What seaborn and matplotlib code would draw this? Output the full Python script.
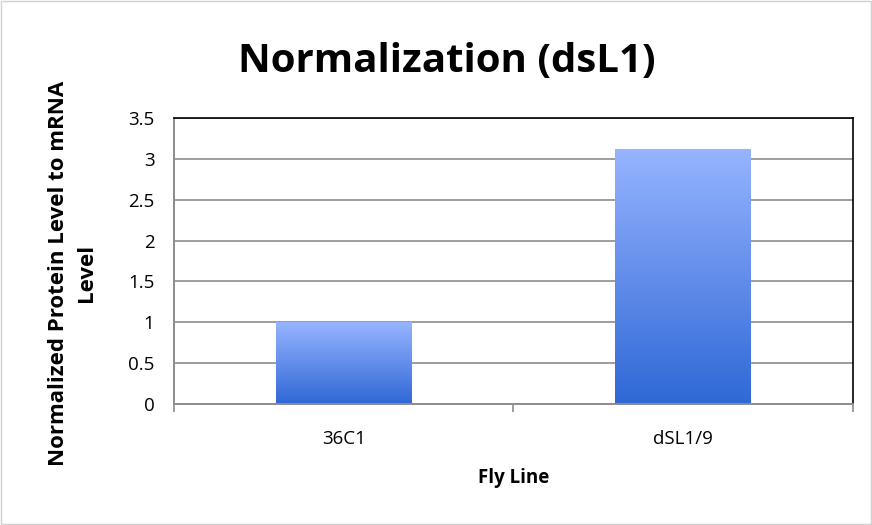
import numpy as np
import pandas as pd
import matplotlib
matplotlib.use("Agg")
import matplotlib.pyplot as plt
import seaborn as sns
from matplotlib.colors import LinearSegmentedColormap
from matplotlib.patches import Rectangle

# data
fly_lines = ["36C1", "dSL1/9"]
ratios = [1.0, 3.12]
y_ticks = [0, 0.5, 1, 1.5, 2, 2.5, 3, 3.5]
y_tick_labels = ["0", "0.5", "1", "1.5", "2", "2.5", "3", "3.5"]

df = pd.DataFrame({"Fly Line": fly_lines, "Ratio": ratios})

sns.set_theme(style="white")
plt.rcParams["font.family"] = ["Open Sans", "DejaVu Sans"]
plt.rcParams["text.color"] = "black"

fig = plt.figure(figsize=(8.72, 5.25), dpi=100)
ax = fig.add_axes([0.1995, 0.2305, 0.7785, 0.5445])

sns.barplot(data=df, x="Fly Line", y="Ratio", ax=ax, width=0.40,
            color="#5b8be8", edgecolor="none", errorbar=None)

# gradient fill for each bar, light at top to dark at bottom
cmap = LinearSegmentedColormap.from_list("grad", ["#2f68d6", "#96b4ff"])
grad = np.linspace(0, 1, 256).reshape(-1, 1)
for bar in ax.patches:
    x0, y0 = bar.get_x(), bar.get_y()
    w, h = bar.get_width(), bar.get_height()
    bar.set_facecolor("none")
    im = ax.imshow(grad, cmap=cmap, origin="lower", aspect="auto",
                   extent=[x0, x0 + w, y0, y0 + h], zorder=2)
    im.set_clip_path(bar)
ax.set_aspect("auto")
ax.set_xlim(-0.5, 1.5)
ax.set_ylim(0, 3.5)

# gridlines
ax.set_yticks(y_ticks)
ax.set_yticklabels(y_tick_labels, fontsize=13.5)
ax.yaxis.grid(True, color="#8c8c8c", linewidth=1.2)
ax.set_axisbelow(True)

# ticks: x ticks at category boundaries
ax.set_xticks([0, 1])
ax.set_xticklabels(fly_lines, fontsize=13.5)
ax.set_xticks([-0.5, 0.5, 1.5], minor=True)
ax.tick_params(axis="x", which="major", length=0, pad=19)
ax.tick_params(axis="x", which="minor", length=6, color="#8c8c8c", width=1.2, direction="out")
ax.tick_params(axis="y", length=6, color="#8c8c8c", width=1.2, direction="out", pad=8)
ax.tick_params(axis="both", colors="#8c8c8c", labelcolor="black")
ax.tick_params(axis="x", which="minor", bottom=True)

for side in ["left", "bottom"]:
    ax.spines[side].set_color("#8c8c8c")
    ax.spines[side].set_linewidth(1.4)
for side in ["top", "right"]:
    ax.spines[side].set_color("black")
    ax.spines[side].set_linewidth(1.2)

ax.set_xlabel("Fly Line", fontsize=13.5, fontweight="bold", labelpad=14, color="black")
ax.set_ylabel("Normalized Protein Level to mRNA\nLevel", fontsize=16,
              fontweight="bold", linespacing=1.4, color="black")
ax.yaxis.set_label_coords(-0.114, 0.458)

fig.suptitle("Normalization (dsL1)", fontsize=29, fontweight="bold",
             x=0.512, y=0.92, color="black")

# light border around the whole picture
fig.patches.append(Rectangle((0.001, 0.001), 0.998, 0.997, transform=fig.transFigure,
                             fill=False, edgecolor="#d0d0d0", linewidth=1))

fig.savefig("out.png", dpi=100)
